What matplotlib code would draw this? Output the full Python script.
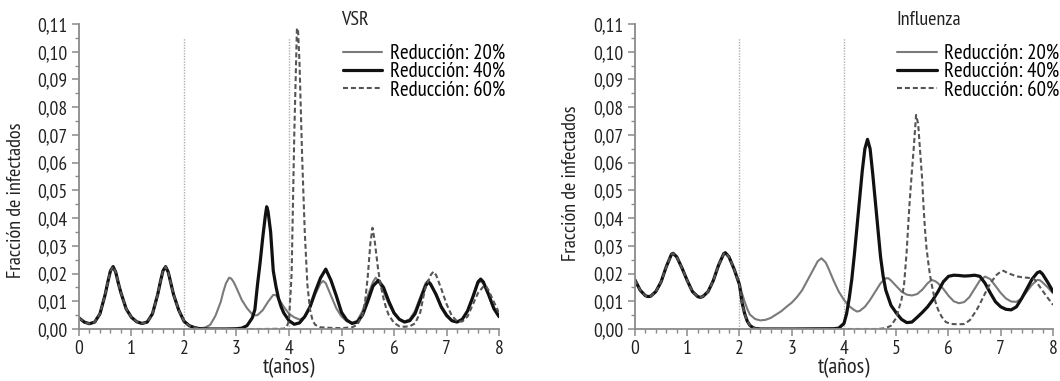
import matplotlib
matplotlib.use("Agg")
import matplotlib.pyplot as plt
from matplotlib import font_manager
from matplotlib.ticker import FuncFormatter, MultipleLocator

# narrow humanist sans to stand in for the original's condensed typeface
available = {f.name for f in font_manager.fontManager.ttflist}
narrow = [n for n in ["PT Sans Narrow", "Roboto Condensed", "Fira Sans Condensed",
                      "Asap Condensed", "Archivo Narrow"] if n in available]
if narrow:
    plt.rcParams["font.family"] = [narrow[0], "DejaVu Sans"]
else:
    plt.rcParams["font.family"] = ["Open Sans", "DejaVu Sans"]
    plt.rcParams["font.stretch"] = "condensed"

# ---- VSR (left panel) ----
# common part (all three reductions coincide before t = 2)
vsr_t_common = [0.0, 0.1, 0.2, 0.3, 0.4, 0.5, 0.55, 0.6, 0.65, 0.7, 0.75, 0.8, 0.9, 1.0, 1.1, 1.2,
                1.3, 1.4, 1.5, 1.55, 1.6, 1.65, 1.7, 1.75, 1.8, 1.9, 2.0, 2.1, 2.2]
vsr_common = [0.0040, 0.0025, 0.0019, 0.0025, 0.0055, 0.0125, 0.0170, 0.0210, 0.0225, 0.0205, 0.0165,
              0.0130, 0.0072, 0.0042, 0.0026, 0.0020, 0.0025, 0.0055, 0.0125, 0.0170, 0.0210, 0.0225,
              0.0205, 0.0165, 0.0125, 0.0068, 0.0028, 0.0012, 0.0005]

vsr_t_20 = [2.3, 2.4, 2.5, 2.6, 2.7, 2.75, 2.8, 2.86, 2.9, 2.95, 3.0, 3.1, 3.2, 3.3, 3.35, 3.4, 3.5,
            3.6, 3.7, 3.75, 3.8, 3.9, 4.0, 4.1, 4.2, 4.3, 4.4, 4.5, 4.6, 4.65, 4.7, 4.8, 4.9, 5.0,
            5.1, 5.2, 5.3, 5.4, 5.5, 5.6, 5.65, 5.7, 5.8, 5.9, 6.0, 6.1, 6.2, 6.3, 6.4, 6.5, 6.6,
            6.65, 6.7, 6.8, 6.9, 7.0, 7.1, 7.2, 7.3, 7.4, 7.5, 7.6, 7.65, 7.7, 7.8, 7.9, 8.0]
vsr_20 = [0.0003, 0.0005, 0.0015, 0.0048, 0.0098, 0.0135, 0.0165, 0.0185, 0.0182, 0.0168, 0.0148,
          0.0105, 0.0075, 0.0053, 0.0049, 0.0050, 0.0068, 0.0098, 0.0123, 0.0122, 0.0110, 0.0080,
          0.0055, 0.0042, 0.0034, 0.0042, 0.0075, 0.0125, 0.0165, 0.0173, 0.0165, 0.0120, 0.0075,
          0.0045, 0.0028, 0.0022, 0.0030, 0.0065, 0.0120, 0.0170, 0.0185, 0.0175, 0.0135, 0.0090,
          0.0055, 0.0035, 0.0027, 0.0035, 0.0065, 0.0115, 0.0165, 0.0175, 0.0165, 0.0120, 0.0075,
          0.0045, 0.0030, 0.0025, 0.0035, 0.0065, 0.0110, 0.0165, 0.0172, 0.0165, 0.0120, 0.0070,
          0.0042]

vsr_t_40 = [2.3, 2.5, 2.8, 3.0, 3.1, 3.2, 3.3, 3.35, 3.4, 3.45, 3.5, 3.55, 3.575, 3.6, 3.65, 3.7,
            3.75, 3.8, 3.85, 3.9, 4.0, 4.1, 4.2, 4.3, 4.4, 4.5, 4.6, 4.7, 4.8, 4.9, 5.0, 5.1, 5.2,
            5.3, 5.4, 5.5, 5.6, 5.7, 5.8, 5.9, 6.0, 6.1, 6.2, 6.3, 6.4, 6.5, 6.6, 6.65, 6.7, 6.8,
            6.9, 7.0, 7.1, 7.2, 7.3, 7.4, 7.5, 7.6, 7.65, 7.7, 7.8, 7.9, 8.0]
vsr_40 = [0.0001, 0.0, 0.0, 0.0001, 0.0003, 0.0012, 0.0040, 0.0070, 0.0160, 0.0240, 0.0330, 0.0410,
          0.0441, 0.0425, 0.0350, 0.0210, 0.0155, 0.0110, 0.0080, 0.0058, 0.0030, 0.0017, 0.0022,
          0.0045, 0.0080, 0.0135, 0.0184, 0.0216, 0.0175, 0.0120, 0.0060, 0.0032, 0.0020, 0.0025,
          0.0050, 0.0100, 0.0155, 0.0175, 0.0150, 0.0100, 0.0058, 0.0035, 0.0025, 0.0030, 0.0055,
          0.0105, 0.0155, 0.0170, 0.0160, 0.0125, 0.0080, 0.0050, 0.0030, 0.0025, 0.0035, 0.0065,
          0.0115, 0.0170, 0.0180, 0.0170, 0.0125, 0.0075, 0.0045]

vsr_t_60 = [2.3, 2.6, 3.0, 3.5, 3.9, 3.95, 4.0, 4.05, 4.1, 4.15, 4.17, 4.2, 4.25, 4.3, 4.35, 4.4,
            4.45, 4.5, 4.6, 4.8, 5.0, 5.2, 5.3, 5.4, 5.45, 5.5, 5.55, 5.59, 5.63, 5.7, 5.75, 5.8,
            5.85, 5.9, 6.0, 6.1, 6.2, 6.3, 6.4, 6.5, 6.56, 6.6, 6.7, 6.75, 6.8, 6.9, 7.0, 7.1, 7.2,
            7.3, 7.4, 7.5, 7.6, 7.7, 7.75, 7.8, 7.9, 8.0]
vsr_60 = [0.0001, 0.0, 0.0, 0.0, 0.0001, 0.0005, 0.0030, 0.0200, 0.0700, 0.1080, 0.1085, 0.0960,
          0.0620, 0.0350, 0.0160, 0.0070, 0.0030, 0.0015, 0.0006, 0.0004, 0.0003, 0.0006, 0.0015,
          0.0050, 0.0100, 0.0190, 0.0310, 0.0365, 0.0320, 0.0210, 0.0155, 0.0110, 0.0075, 0.0050,
          0.0022, 0.0010, 0.0008, 0.0010, 0.0020, 0.0060, 0.0117, 0.0150, 0.0195, 0.0207, 0.0195,
          0.0145, 0.0090, 0.0048, 0.0028, 0.0027, 0.0045, 0.0088, 0.0130, 0.0153, 0.0155, 0.0140,
          0.0098, 0.0058]

# ---- Influenza (right panel) ----
flu_t_common = [0.0, 0.1, 0.2, 0.25, 0.3, 0.4, 0.5, 0.6, 0.7, 0.73, 0.8, 0.9, 1.0, 1.1, 1.2, 1.25,
                1.3, 1.4, 1.5, 1.6, 1.7, 1.73, 1.8, 1.9, 2.0]
flu_common = [0.0177, 0.0140, 0.0120, 0.0117, 0.0118, 0.0135, 0.0170, 0.0225, 0.0270, 0.0273, 0.0260,
              0.0220, 0.0175, 0.0135, 0.0117, 0.0114, 0.0117, 0.0135, 0.0175, 0.0230, 0.0272, 0.0275,
              0.0260, 0.0215, 0.0160]

flu_t_20 = [2.05, 2.1, 2.15, 2.2, 2.3, 2.4, 2.5, 2.6, 2.7, 2.8, 2.9, 3.0, 3.1, 3.2, 3.3, 3.4, 3.5,
            3.57, 3.65, 3.7, 3.8, 3.9, 4.0, 4.1, 4.2, 4.25, 4.3, 4.4, 4.5, 4.6, 4.7, 4.8, 4.85, 4.9,
            5.0, 5.1, 5.2, 5.3, 5.4, 5.5, 5.6, 5.68, 5.75, 5.8, 5.9, 6.0, 6.1, 6.2, 6.3, 6.4, 6.5,
            6.6, 6.7, 6.8, 6.9, 7.0, 7.1, 7.2, 7.3, 7.4, 7.5, 7.6, 7.7, 7.75, 7.8, 7.9, 8.0]
flu_20 = [0.0128, 0.0098, 0.0072, 0.0052, 0.0036, 0.0031, 0.0033, 0.0040, 0.0052, 0.0064, 0.0080,
          0.0095, 0.0115, 0.0140, 0.0175, 0.0210, 0.0245, 0.0255, 0.0240, 0.0220, 0.0175, 0.0135,
          0.0105, 0.0082, 0.0068, 0.0063, 0.0065, 0.0080, 0.0105, 0.0135, 0.0165, 0.0183, 0.0183,
          0.0175, 0.0155, 0.0135, 0.0124, 0.0121, 0.0126, 0.0142, 0.0165, 0.0177, 0.0172, 0.0165,
          0.0145, 0.0120, 0.0100, 0.0093, 0.0097, 0.0115, 0.0145, 0.0175, 0.0189, 0.0180, 0.0155,
          0.0130, 0.0110, 0.0099, 0.0098, 0.0110, 0.0135, 0.0160, 0.0177, 0.0176, 0.0168, 0.0150,
          0.0129]

flu_t_40 = [2.05, 2.1, 2.15, 2.2, 2.25, 2.3, 2.4, 3.0, 3.8, 3.9, 4.0, 4.05, 4.1, 4.15, 4.2, 4.25,
            4.3, 4.35, 4.4, 4.45, 4.5, 4.55, 4.6, 4.65, 4.7, 4.75, 4.8, 4.9, 5.0, 5.1, 5.2, 5.3,
            5.4, 5.5, 5.6, 5.7, 5.8, 5.9, 6.0, 6.1, 6.2, 6.3, 6.4, 6.5, 6.6, 6.7, 6.8, 6.9, 7.0,
            7.1, 7.2, 7.3, 7.4, 7.5, 7.6, 7.7, 7.75, 7.8, 7.9, 8.0]
flu_40 = [0.0095, 0.0055, 0.0028, 0.0013, 0.0006, 0.0002, 0.0, 0.0, 0.0001, 0.0003, 0.0020, 0.0055,
          0.0110, 0.0180, 0.0270, 0.0370, 0.0470, 0.0570, 0.0650, 0.0684, 0.0650, 0.0560, 0.0460,
          0.0360, 0.0260, 0.0190, 0.0140, 0.0085, 0.0058, 0.0035, 0.0023, 0.0025, 0.0042, 0.0060,
          0.0080, 0.0105, 0.0135, 0.0170, 0.0190, 0.0194, 0.0193, 0.0191, 0.0192, 0.0194, 0.0190,
          0.0165, 0.0130, 0.0098, 0.0080, 0.0071, 0.0069, 0.0080, 0.0110, 0.0145, 0.0180, 0.0203,
          0.0207, 0.0198, 0.0168, 0.0135]

flu_t_60 = [2.05, 2.1, 2.15, 2.2, 2.25, 2.3, 2.4, 3.5, 4.6, 4.7, 4.8, 4.9, 5.0, 5.1, 5.15, 5.2,
            5.25, 5.3, 5.33, 5.38, 5.42, 5.45, 5.5, 5.52, 5.55, 5.58, 5.62, 5.65, 5.7, 5.75, 5.8,
            5.87, 5.95, 6.05, 6.2, 6.3, 6.41, 6.54, 6.6, 6.73, 6.8, 6.92, 7.0, 7.05, 7.1, 7.2, 7.3,
            7.4, 7.5, 7.6, 7.65, 7.7, 7.8, 7.9, 8.0]
flu_60 = [0.0095, 0.0055, 0.0028, 0.0013, 0.0006, 0.0002, 0.0, 0.0, 0.0, 0.0001, 0.0003, 0.0012,
          0.0040, 0.0105, 0.0160, 0.0280, 0.0440, 0.0570, 0.0640, 0.0772, 0.0740, 0.0660, 0.0530,
          0.0450, 0.0360, 0.0290, 0.0230, 0.0190, 0.0140, 0.0098, 0.0070, 0.0044, 0.0025, 0.0018,
          0.0017, 0.0018, 0.0032, 0.0069, 0.0090, 0.0140, 0.0165, 0.0195, 0.0207, 0.0210, 0.0205,
          0.0197, 0.0190, 0.0187, 0.0185, 0.0183, 0.0178, 0.0165, 0.0138, 0.0112, 0.0087]

labels = ["Reducción: 20%", "Reducción: 40%", "Reducción: 60%"]
vlines_t = [2, 4]
vline_top = 0.105

panels = [
    dict(title="VSR", t_common=vsr_t_common, common=vsr_common,
         series=[(vsr_t_20, vsr_20), (vsr_t_40, vsr_40), (vsr_t_60, vsr_60)],
         rect=[0.0745, 0.1365, 0.3963, 0.8005], ylab=(-0.128, 0.423)),
    dict(title="Influenza", t_common=flu_t_common, common=flu_common,
         series=[(flu_t_20, flu_20), (flu_t_40, flu_40), (flu_t_60, flu_60)],
         rect=[0.599, 0.1365, 0.3944, 0.8005], ylab=(-0.131, 0.477)),
]

styles = [
    dict(color="#7a7a7a", lw=1.5, ls="-"),
    dict(color="#111111", lw=2.3, ls="-"),
    dict(color="#555555", lw=1.5, ls=(0, (2.4, 1.4))),
]

fig = plt.figure(figsize=(10.6, 3.81), dpi=100)
axis_gray = "#8a8a8a"

for p in panels:
    ax = fig.add_axes(p["rect"])
    for tv in vlines_t:
        ax.plot([tv, tv], [0, vline_top], color="#b0b0b0", lw=1.0, ls=(0, (1, 1)), zorder=1)
    handles = []
    for (ts, vs), st, lab in zip(p["series"], styles, labels):
        t = p["t_common"] + ts
        v = p["common"] + vs
        h, = ax.plot(t, v, color=st["color"], lw=st["lw"], ls=st["ls"], label=lab,
                     solid_capstyle="round", zorder=2)
        handles.append(h)

    ax.set_xlim(0, 8)
    ax.set_ylim(0, 0.11)
    ax.xaxis.set_major_locator(MultipleLocator(1))
    ax.xaxis.set_minor_locator(MultipleLocator(0.2))
    ax.yaxis.set_major_locator(MultipleLocator(0.01))
    ax.yaxis.set_minor_locator(MultipleLocator(0.005))
    ax.yaxis.set_major_formatter(FuncFormatter(lambda v, pos: f"{v:.2f}".replace(".", ",")))
    for side in ["top", "right"]:
        ax.spines[side].set_visible(False)
    for side in ["left", "bottom"]:
        ax.spines[side].set_color(axis_gray)
        ax.spines[side].set_linewidth(1.3)
    ax.tick_params(which="major", direction="out", length=5, width=1.1, color=axis_gray,
                   labelsize=14, labelcolor="#222222", pad=3)
    ax.tick_params(which="minor", direction="out", length=3, width=1.0, color=axis_gray)

    ax.set_ylabel("Fracción de infectados", fontsize=14.5, color="#222222")
    ax.yaxis.set_label_coords(*p["ylab"])
    ax.set_xlabel("t(años)", fontsize=16, color="#222222", labelpad=0)

    ax.text(0.625, 1.012, p["title"], transform=ax.transAxes, fontsize=14.5,
            ha="left", va="center", color="#222222", clip_on=False)
    ax.legend(handles=handles, loc="upper left", bbox_to_anchor=(0.628, 0.935),
              frameon=False, fontsize=15, handlelength=1.9, handletextpad=0.35,
              labelspacing=-0.03, borderpad=0, borderaxespad=0)

fig.savefig("out.png", dpi=100)
